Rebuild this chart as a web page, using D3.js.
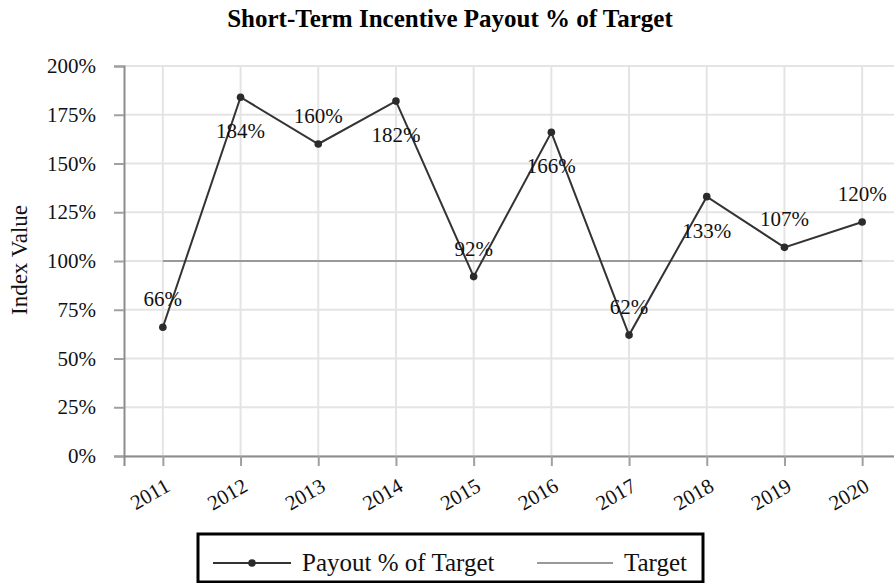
<!DOCTYPE html>
<html lang="en">
<head>
    <meta charset="UTF-8">
    <title>Short-Term Incentive Payout % of Target</title>
    <script src="https://d3js.org/d3.v7.min.js"></script>
    <style>
        body { margin: 0; background: #fff; }
        svg { display: block; font-family: "Liberation Serif", "Times New Roman", serif; }
    </style>
</head>
<body>
    <svg id="chart" width="894" height="583"></svg>
    <script>
        const years = ["2011", "2012", "2013", "2014", "2015", "2016", "2017", "2018", "2019", "2020"];
        const payout = [66, 184, 160, 182, 92, 166, 62, 133, 107, 120];
        const target = [100, 100, 100, 100, 100, 100, 100, 100, 100, 100];
        const yTicks = [0, 25, 50, 75, 100, 125, 150, 175, 200];

        const margin = {top: 66, left: 124},
              width = 777, height = 390;

        const svg = d3.select("#chart");
        const g = svg.append("g").attr("transform", `translate(${margin.left},${margin.top})`);

        const x = d3.scalePoint().domain(years).range([0, width]).padding(0.5);
        const y = d3.scaleLinear().domain([0, 200]).range([height, 0]);

        // grid
        g.append("g").selectAll("line").data(yTicks).join("line")
            .attr("x1", 0).attr("x2", width)
            .attr("y1", d => y(d)).attr("y2", d => y(d))
            .attr("stroke", "#e4e4e4").attr("stroke-width", 2);
        g.append("g").selectAll("line").data(years).join("line")
            .attr("x1", d => x(d)).attr("x2", d => x(d))
            .attr("y1", 0).attr("y2", height)
            .attr("stroke", "#e4e4e4").attr("stroke-width", 2);

        // axes
        const yAxis = g.append("g")
            .call(d3.axisLeft(y).tickValues(yTicks).tickFormat(d => d + "%").tickSize(10).tickPadding(18));
        const xAxis = g.append("g").attr("transform", `translate(0,${height})`)
            .call(d3.axisBottom(x).tickSize(10));
        [yAxis, xAxis].forEach(a => {
            a.select(".domain").attr("stroke", "#8c8c8c").attr("stroke-width", 2);
            a.selectAll(".tick line").attr("stroke", "#a0a0a0").attr("stroke-width", 2);
            a.selectAll("text").attr("font-family", "Liberation Serif").attr("font-size", 21).attr("fill", "#111");
        });
        xAxis.selectAll("text")
            .attr("text-anchor", "end")
            .attr("x", 0).attr("y", 0).attr("dy", 0)
            .attr("transform", "translate(8,34) rotate(-30)");

        // target line
        const line = d3.line().x((d, i) => x(years[i])).y(d => y(d));
        g.append("path").datum(target)
            .attr("d", line).attr("fill", "none")
            .attr("stroke", "#999").attr("stroke-width", 2.2);

        // payout line
        g.append("path").datum(payout)
            .attr("d", line).attr("fill", "none")
            .attr("stroke", "#333").attr("stroke-width", 2);
        g.append("g").selectAll("circle").data(payout).join("circle")
            .attr("cx", (d, i) => x(years[i])).attr("cy", d => y(d))
            .attr("r", 3.8).attr("fill", "#2b2b2b");

        // value labels: under a peak, above otherwise
        const isPeak = (d, i) => i > 0 && i < payout.length - 1 && d > payout[i - 1] && d > payout[i + 1];
        g.append("g").selectAll("text").data(payout).join("text")
            .attr("x", (d, i) => x(years[i]))
            .attr("y", (d, i) => y(d) + (isPeak(d, i) ? 41 : -21))
            .attr("text-anchor", "middle")
            .attr("font-size", 21).attr("fill", "#111")
            .text(d => d + "%");

        // title
        svg.append("text")
            .attr("x", 450).attr("y", 27)
            .attr("text-anchor", "middle")
            .attr("font-size", 25).attr("font-weight", "bold")
            .text("Short-Term Incentive Payout % of Target");

        // y title
        svg.append("text")
            .attr("transform", "translate(27,260) rotate(-90)")
            .attr("text-anchor", "middle")
            .attr("font-size", 23).attr("fill", "#111")
            .text("Index Value");

        // legend
        const leg = svg.append("g");
        leg.append("rect")
            .attr("x", 198).attr("y", 534).attr("width", 505).attr("height", 48)
            .attr("fill", "none").attr("stroke", "#000").attr("stroke-width", 3);
        leg.append("line").attr("x1", 213).attr("x2", 291).attr("y1", 563).attr("y2", 563)
            .attr("stroke", "#333").attr("stroke-width", 2);
        leg.append("circle").attr("cx", 252).attr("cy", 563).attr("r", 3.8).attr("fill", "#2b2b2b");
        leg.append("text").attr("x", 302).attr("y", 571).attr("font-size", 25).attr("fill", "#111")
            .text("Payout % of Target");
        leg.append("line").attr("x1", 537).attr("x2", 613).attr("y1", 563).attr("y2", 563)
            .attr("stroke", "#999").attr("stroke-width", 2.2);
        leg.append("text").attr("x", 624).attr("y", 571).attr("font-size", 25).attr("fill", "#111")
            .text("Target");
    </script>
</body>
</html>
